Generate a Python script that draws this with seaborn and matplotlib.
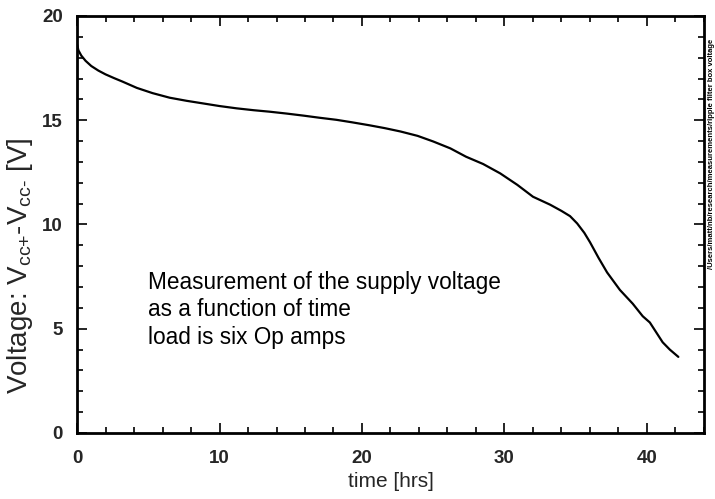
import matplotlib
matplotlib.use("Agg")
import matplotlib.pyplot as plt
from matplotlib.ticker import MultipleLocator
import numpy as np
import pandas as pd
import seaborn as sns

# Supply voltage (Vcc+ - Vcc-) measured over time
time_hrs = [0.0, 0.1, 0.3, 0.6, 1.0, 1.5, 2.0, 2.6, 3.2, 4.2, 5.3, 6.5,
            7.7, 8.9, 10.0, 11.2, 12.4, 13.5, 14.7, 15.9, 17.0, 18.2,
            19.3, 20.5, 21.6, 22.7, 23.9, 25.0, 26.2, 27.3, 28.5, 29.7,
            30.9, 32.0, 33.2, 34.0, 34.6, 35.1, 35.6, 36.0, 36.6, 37.2,
            38.1, 39.0, 39.7, 40.2, 41.1, 41.6, 42.2]
voltage_v = [18.65, 18.35, 18.1, 17.85, 17.6, 17.38, 17.2, 17.02, 16.85,
             16.55, 16.3, 16.08, 15.93, 15.8, 15.68, 15.57, 15.48, 15.41,
             15.32, 15.22, 15.12, 15.02, 14.9, 14.76, 14.62, 14.46, 14.25,
             13.98, 13.65, 13.25, 12.9, 12.45, 11.9, 11.33, 10.95, 10.65,
             10.4, 10.05, 9.6, 9.15, 8.4, 7.7, 6.86, 6.2, 5.6, 5.3, 4.35,
             4.0, 3.65]

note_lines = ["Measurement of the supply voltage",
              "as a function of time",
              "load is six Op amps"]
file_path = "/Users/matt/nb/research/measurements/ripple filter box voltage"

sns.set_theme(style="white")
plt.rcParams["font.family"] = ["Liberation Sans", "DejaVu Sans"]
plt.rcParams["mathtext.fontset"] = "custom"
plt.rcParams["mathtext.rm"] = "Liberation Sans"

df = pd.DataFrame({"time": time_hrs, "voltage": voltage_v})

fig = plt.figure(figsize=(7.15, 4.99), dpi=100)
ax = fig.add_axes([0.1077, 0.1323, 0.8769, 0.8357])

sns.lineplot(data=df, x="time", y="voltage", ax=ax, color="black",
             linewidth=1.6, sort=False)

ax.set_xlim(0, 44)
ax.set_ylim(0, 20)
ax.xaxis.set_major_locator(MultipleLocator(10))
ax.xaxis.set_minor_locator(MultipleLocator(2))
ax.yaxis.set_major_locator(MultipleLocator(5))
ax.yaxis.set_minor_locator(MultipleLocator(1))
ax.tick_params(which="both", direction="in", top=True, right=True,
               bottom=True, left=True, color="black", width=1.2)
ax.tick_params(which="major", length=7, labelsize=13.5)
ax.tick_params(axis="x", which="major", pad=12)
ax.tick_params(axis="y", which="major", pad=10)
ax.tick_params(which="minor", length=4)
for lbl in ax.get_xticklabels() + ax.get_yticklabels():
    lbl.set_fontweight("bold")

for side in ax.spines.values():
    side.set_visible(True)
    side.set_color("black")
    side.set_linewidth(2.0)

ax.set_xlabel("time [hrs]", fontsize=15, labelpad=4)
ax.set_ylabel(r"Voltage: V$_{\text{cc+}}$-V$_{\text{cc-}}$ [V]",
              fontsize=20)
ax.yaxis.set_label_coords(-0.067, 0.40)

for i, line in enumerate(note_lines):
    ax.text(5.0, 7.2 - i * 1.3, line, fontsize=16.3, color="black",
            ha="left", va="center")

fig.text(0.9955, 0.46, file_path, rotation=90, fontsize=5.5,
         fontweight="bold", ha="center", va="bottom", color="black")

fig.savefig("out.png", dpi=100, facecolor="white")
